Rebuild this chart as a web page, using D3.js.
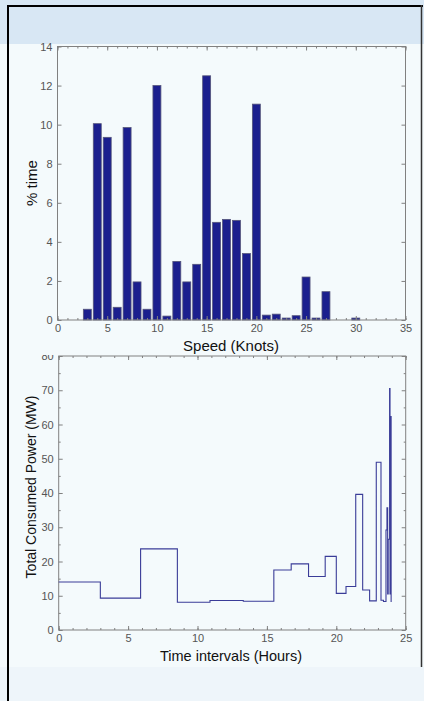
<!DOCTYPE html>
<html lang="en">
  <head>
    <meta charset="UTF-8" />
    <title>Speed histogram and consumed power</title>
    <script src="https://cdnjs.cloudflare.com/ajax/libs/d3/7.8.5/d3.min.js"></script>
    <style>
      body { margin: 0; background: #f4fafc; }
      svg { display: block; font-family: "Liberation Sans", Arial, sans-serif; }
      .tick text { fill: #555; font-size: 11px; }
      .tick line { stroke: #808080; }
      .domain { display: none; }
    </style>
  </head>
  <body>
    <div id="chart"></div>

    <script type="text/javascript">
      // % of time spent at each speed (knots)
      var speeds = [3, 4, 5, 6, 7, 8, 9, 10, 11, 12, 13, 14, 15, 16, 17, 18, 19, 20, 21, 22, 23, 24, 25, 26, 27, 30];
      var pctTime = [0.55, 10.05, 9.35, 0.65, 9.85, 1.95, 0.55, 12.0, 0.2, 3.0, 1.95, 2.85, 12.5, 5.0, 5.15, 5.1, 3.4, 11.05, 0.25, 0.3, 0.1, 0.22, 2.2, 0.1, 1.45, 0.1];
      var speedTicks = [0, 5, 10, 15, 20, 25, 30, 35];
      var pctTicks = [0, 2, 4, 6, 8, 10, 12, 14];

      // total consumed power, step after each time (hours)
      var hours = [0, 3, 5.9, 8.55, 10.9, 13.3, 15.5, 16.75, 18.0, 19.2, 20.0, 20.7, 21.4, 21.9, 22.4, 22.88, 23.22, 23.4, 23.58, 23.65, 23.7, 23.74, 23.84, 23.87, 23.9, 23.95];
      var powerMW = [14, 9.3, 23.7, 8.1, 8.6, 8.4, 17.5, 19.3, 15.6, 21.5, 10.7, 12.7, 39.6, 11.7, 8.5, 49, 8.7, 8.3, 29.2, 35.7, 10.5, 26.5, 70.5, 10.5, 62.3, 8.2];
      var hourTicks = [0, 5, 10, 15, 20, 25];
      var powerTicks = [0, 10, 20, 30, 40, 50, 60, 70, 80];

      var W = 424, H = 701;
      var svg = d3.select("#chart").append("svg").attr("width", W).attr("height", H);

      /* page background and framed panel */
      svg.append("rect").attr("width", W).attr("height", 44).attr("fill", "#d8e7f4");
      svg.append("rect").attr("y", 667).attr("width", W).attr("height", H - 667).attr("fill", "#eef5fa");
      svg.append("line").attr("x1", 7).attr("x2", 423).attr("y1", 6).attr("y2", 6)
        .attr("stroke", "#000").attr("stroke-width", 2);
      svg.append("line").attr("x1", 8).attr("x2", 8).attr("y1", 5).attr("y2", H)
        .attr("stroke", "#000").attr("stroke-width", 2);
      svg.append("line").attr("x1", 421.5).attr("x2", 421.5).attr("y1", 5).attr("y2", 667)
        .attr("stroke", "#333").attr("stroke-width", 1.5);

      function range(a, b) { return d3.range(a, b + 0.001, 1); }

      function frame(g, x, y, xMaj, xMin, yMaj, yMin) {
        var x0 = x.range()[0], x1 = x.range()[1], y0 = y.range()[0], y1 = y.range()[1];
        var pad = 4;
        g.append("g").attr("transform", "translate(0," + y0 + ")")
          .call(d3.axisBottom(x).tickValues(xMin).tickSize(-2).tickFormat(""));
        g.append("g").attr("transform", "translate(0," + y1 + ")")
          .call(d3.axisTop(x).tickValues(xMin).tickSize(-2).tickFormat(""));
        g.append("g").attr("transform", "translate(0," + y0 + ")")
          .call(d3.axisBottom(x).tickValues(xMaj).tickSize(-4).tickPadding(pad));
        g.append("g").attr("transform", "translate(0," + y1 + ")")
          .call(d3.axisTop(x).tickValues(xMaj).tickSize(-4).tickFormat(""));
        if (yMin) {
          g.append("g").attr("transform", "translate(" + x0 + ",0)")
            .call(d3.axisLeft(y).tickValues(yMin).tickSize(-2).tickFormat(""));
          g.append("g").attr("transform", "translate(" + x1 + ",0)")
            .call(d3.axisRight(y).tickValues(yMin).tickSize(-2).tickFormat(""));
        }
        var ly = g.append("g").attr("transform", "translate(" + x0 + ",0)")
          .call(d3.axisLeft(y).tickValues(yMaj).tickSize(-4).tickPadding(5));
        g.append("g").attr("transform", "translate(" + x1 + ",0)")
          .call(d3.axisRight(y).tickValues(yMaj).tickSize(-4).tickFormat(""));
        g.append("rect").attr("x", x0).attr("y", y1).attr("width", x1 - x0).attr("height", y0 - y1)
          .attr("fill", "none").attr("stroke", "#808080");
        return ly;
      }

      /* upper panel: histogram */
      var xs = d3.scaleLinear().domain([0, 35]).range([57.5, 405.5]);
      var yp = d3.scaleLinear().domain([0, 14]).range([320, 46.5]);
      var gTop = svg.append("g");
      gTop.selectAll("rect.bar").data(speeds).enter().append("rect")
        .attr("class", "bar")
        .attr("x", function (d) { return xs(d - 0.4); })
        .attr("width", function (d) { return xs(d + 0.4) - xs(d - 0.4); })
        .attr("y", function (d, i) { return yp(pctTime[i]); })
        .attr("height", function (d, i) { return yp(0) - yp(pctTime[i]); })
        .attr("fill", "#1b1f8e").attr("stroke", "#55557a").attr("stroke-width", 0.8);
      frame(gTop, xs, yp, speedTicks, range(0, 35), pctTicks, null);

      gTop.append("text").attr("x", 231).attr("y", 351).attr("text-anchor", "middle")
        .attr("font-size", 15).attr("fill", "#111").text("Speed (Knots)");
      gTop.append("text").attr("transform", "translate(37,183) rotate(-90)").attr("text-anchor", "middle")
        .attr("font-size", 15).attr("fill", "#111").text("% time");

      /* lower panel: step line of consumed power */
      var xh = d3.scaleLinear().domain([0, 25]).range([58.7, 405.7]);
      var yw = d3.scaleLinear().domain([0, 80]).range([630, 356]);
      var gBot = svg.append("g");
      svg.append("clipPath").attr("id", "yclip").append("rect")
        .attr("x", -60).attr("y", 355).attr("width", 120).attr("height", 300);
      var ly = frame(gBot, xh, yw, hourTicks, range(0, 25), powerTicks, d3.range(5, 80, 10));
      ly.attr("clip-path", "url(#yclip)");

      var pts = hours.map(function (h, i) { return [h, powerMW[i]]; });
      var line = d3.line().curve(d3.curveStepAfter)
        .x(function (d) { return xh(d[0]); })
        .y(function (d) { return yw(d[1]); });
      gBot.append("path").datum(pts).attr("d", line)
        .attr("fill", "none").attr("stroke", "#3a3c98").attr("stroke-width", 1.1);

      gBot.append("text").attr("x", 231).attr("y", 661).attr("text-anchor", "middle")
        .attr("font-size", 14.5).attr("fill", "#111").text("Time intervals (Hours)");
      gBot.append("text").attr("transform", "translate(36,487) rotate(-90)").attr("text-anchor", "middle")
        .attr("font-size", 14).attr("fill", "#111").text("Total Consumed Power (MW)");
    </script>
  </body>
</html>
